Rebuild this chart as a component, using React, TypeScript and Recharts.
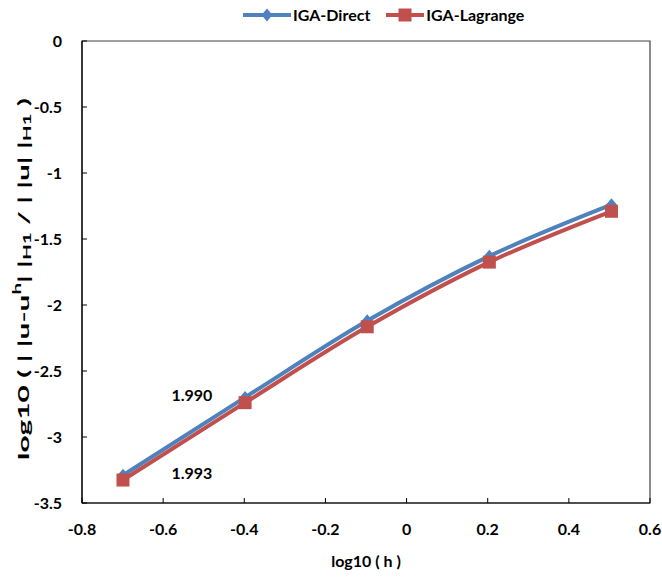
import React from 'react';
import { LineChart, Line, XAxis, YAxis, ReferenceArea, ReferenceDot } from 'recharts';

const logH = [-0.699, -0.398, -0.097, 0.204, 0.505];
const directErr = [-3.29, -2.7, -2.12, -1.63, -1.24];
const lagrangeErr = [-3.326, -2.74, -2.165, -1.675, -1.29];
const xTicks = [-0.8, -0.6, -0.4, -0.2, 0, 0.2, 0.4, 0.6];
const yTicks = [0, -0.5, -1, -1.5, -2, -2.5, -3, -3.5];
const rateLabels = [
  { x: -0.529, y: -2.682, text: '1.990' },
  { x: -0.529, y: -3.273, text: '1.993' },
];

const data = logH.map((x, i) => ({ x, direct: directErr[i], lagrange: lagrangeErr[i] }));

const BLUE = '#4F81BD';
const RED = '#C0504D';
const FONT = 'Lato, "Open Sans", sans-serif';

const Diamond = (props: any) => {
  const { cx, cy } = props;
  if (cx == null || cy == null) return null;
  return <polygon points={`${cx},${cy - 6.5} ${cx + 5.5},${cy} ${cx},${cy + 6.5} ${cx - 5.5},${cy}`} fill={BLUE} />;
};

const Square = (props: any) => {
  const { cx, cy } = props;
  if (cx == null || cy == null) return null;
  return <rect x={cx - 6.5} y={cy - 6.5} width={13} height={13} fill={RED} />;
};

const YLabel = (props: any) => {
  const vb = props.viewBox || {};
  const cx = 22;
  const cy = vb.y + vb.height / 2 + 7;
  return (
    <text
      x={cx}
      y={cy}
      transform={`rotate(-90 ${cx} ${cy})`}
      textAnchor="middle"
      dominantBaseline="central"
      textLength={362}
      lengthAdjust="spacingAndGlyphs"
      style={{ fontFamily: FONT, fontWeight: 700, fontSize: 16, fill: '#000' }}
    >
      <tspan>log10 ( | |u-u</tspan>
      <tspan fontSize={11} dy={-6}>h</tspan>
      <tspan dy={6}>| |</tspan>
      <tspan fontSize={11} dy={4}>H1</tspan>
      <tspan dy={-4}> / | |u| |</tspan>
      <tspan fontSize={11} dy={4}>H1</tspan>
      <tspan dy={-4}> )</tspan>
    </text>
  );
};

const LegendItem = ({ color, shape, label, width, gap }: any) => (
  <div style={{ display: 'flex', alignItems: 'center', marginRight: gap }}>
    <svg width={width} height={16}>
      <line x1={0} y1={8} x2={width} y2={8} stroke={color} strokeWidth={4} />
      {shape === 'diamond' ? (
        <polygon points={`${width / 2},1.5 ${width / 2 + 5.5},8 ${width / 2},14.5 ${width / 2 - 5.5},8`} fill={color} />
      ) : (
        <rect x={width / 2 - 6.5} y={1.5} width={13} height={13} fill={color} />
      )}
    </svg>
    <span style={{ fontFamily: FONT, fontWeight: 700, fontSize: 16, color: '#000', marginLeft: 2 }}>{label}</span>
  </div>
);

export default function App() {
  return (
    <div style={{ position: 'absolute', left: 0, top: 0, width: 662, height: 579, background: '#fff' }}>
      <div style={{ position: 'absolute', left: 243, top: 5, display: 'flex', alignItems: 'center' }}>
        <LegendItem color={BLUE} shape="diamond" label="IGA-Direct" width={48} gap={16} />
        <LegendItem color={RED} shape="square" label="IGA-Lagrange" width={38} gap={0} />
      </div>
      <LineChart width={662} height={579} data={data} margin={{ top: 41, right: 12, bottom: 0, left: 0 }}>
        <ReferenceArea x1={-0.8} x2={0.6} y1={-3.5} y2={0} fill="none" stroke="#404040" strokeWidth={1.2} ifOverflow="visible" />
        <XAxis
          dataKey="x"
          type="number"
          domain={[-0.8, 0.6]}
          ticks={xTicks}
          tickFormatter={(v: number) => String(v)}
          height={76}
          tickSize={-5}
          tickMargin={26}
          axisLine={{ stroke: '#000', strokeWidth: 1.2 }}
          tickLine={{ stroke: '#000' }}
          tick={{ fontFamily: FONT, fontWeight: 700, fontSize: 16, fill: '#000' }}
          label={{ value: 'log10 ( h )', position: 'insideBottom', offset: 12, style: { fontFamily: FONT, fontWeight: 700, fontSize: 16, fill: '#000' } }}
          interval={0}
        />
        <YAxis
          type="number"
          domain={[-3.5, 0]}
          ticks={yTicks}
          tickFormatter={(v: number) => String(v)}
          width={82}
          tickSize={-5}
          tickMargin={25}
          axisLine={{ stroke: '#000', strokeWidth: 1.2 }}
          tickLine={{ stroke: '#000' }}
          tick={{ fontFamily: FONT, fontWeight: 700, fontSize: 16, fill: '#000' }}
          label={<YLabel />}
          interval={0}
        />
        <Line type="monotone" dataKey="direct" stroke={BLUE} strokeWidth={4} dot={<Diamond />} activeDot={false} isAnimationActive={false} />
        <Line type="monotone" dataKey="lagrange" stroke={RED} strokeWidth={4} dot={<Square />} activeDot={false} isAnimationActive={false} />
        {rateLabels.map((r) => (
          <ReferenceDot
            key={r.text}
            x={r.x}
            y={r.y}
            r={0}
            fill="none"
            stroke="none"
            ifOverflow="visible"
            label={{ value: r.text, position: 'center', style: { fontFamily: FONT, fontWeight: 700, fontSize: 16, fill: '#000' } }}
          />
        ))}
      </LineChart>
    </div>
  );
}
